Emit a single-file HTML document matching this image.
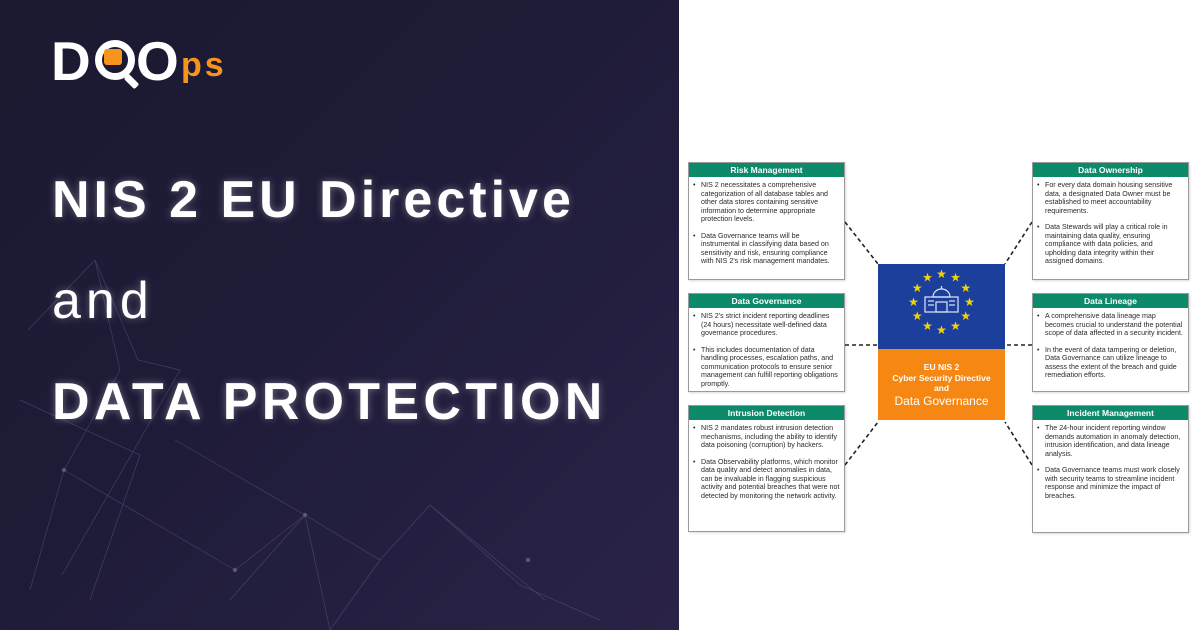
<!DOCTYPE html>
<html><head><meta charset="utf-8"><style>
*{margin:0;padding:0;box-sizing:border-box}
body{width:1200px;height:630px;overflow:hidden;background:#fff;font-family:"Liberation Sans",sans-serif;position:relative}
#left{position:absolute;left:0;top:0;width:679px;height:630px;background:linear-gradient(135deg,#1b1a30 0%,#1e1b38 45%,#2a2347 100%)}
.title{position:absolute;left:52px;color:#fff;font-weight:bold;font-size:52px;letter-spacing:4px;text-shadow:0 0 8px rgba(255,255,255,0.35);white-space:nowrap}
.box{position:absolute;background:#fff;border:1px solid #9a9a9a;box-shadow:1px 1px 2px rgba(0,0,0,0.15)}
.hd{background:#0d8a6a;color:#fff;font-weight:bold;font-size:8.5px;text-align:center;height:14px;line-height:14px}
.box ul{list-style:none;padding:4px 4px 0 4px}
.box li{font-size:7.1px;line-height:8.5px;color:#2a2a2a;padding-left:8px;position:relative;margin-bottom:8px}
.box li:before{content:"•";position:absolute;left:0;top:0}
</style></head><body>
<div id="left">
<svg width="679" height="630" style="position:absolute;left:0;top:0" stroke="#5a5585" stroke-width="0.7" fill="none" opacity="0.6">
<polyline points="28,330 95,260 120,370 64,470 30,590"/>
<polyline points="95,260 138,360 180,370 62,575"/>
<polyline points="64,470 235,570 305,515 380,560 430,505 545,600"/>
<polyline points="175,440 305,515 330,630"/>
<polyline points="380,560 330,630"/>
<polyline points="430,505 520,585 600,620"/>
<polyline points="20,400 140,455 90,600"/>
<polyline points="230,600 305,515"/>
<circle cx="64" cy="470" r="2" fill="#8a86c0"/>
<circle cx="235" cy="570" r="2" fill="#8a86c0"/>
<circle cx="305" cy="515" r="2" fill="#8a86c0"/>
<circle cx="528" cy="560" r="2" fill="#8a86c0"/>
</svg>
<!-- logo -->
<div style="position:absolute;left:51px;top:34px;font-weight:bold;font-size:55px;color:#fff;line-height:55px">D</div>
<div style="position:absolute;left:95px;top:40px;width:40px;height:40px;border:7px solid #fff;border-radius:50%"></div>
<div style="position:absolute;left:104px;top:49px;width:18px;height:16px;background:#f7941d;border-radius:3px"></div>
<div style="position:absolute;left:124px;top:78px;width:15px;height:7px;background:#fff;transform:rotate(45deg);border-radius:2px"></div>
<div style="position:absolute;left:136px;top:34px;font-weight:bold;font-size:55px;color:#fff;line-height:55px">O</div>
<div style="position:absolute;left:181px;top:50px;font-weight:bold;font-size:34px;color:#f7941d;line-height:30px;letter-spacing:3px">ps</div>
<div class="title" style="top:170px">NIS 2 EU Directive</div>
<div class="title" style="top:271px;font-weight:normal;letter-spacing:5px">and</div>
<div class="title" style="top:372px;letter-spacing:4.3px">DATA PROTECTION</div>
</div>

<svg width="1200" height="630" style="position:absolute;left:0;top:0" stroke="#222" stroke-width="1.6" stroke-dasharray="4,3" fill="none">
<line x1="845" y1="222" x2="878" y2="264"/>
<line x1="845" y1="345" x2="878" y2="345"/>
<line x1="845" y1="465" x2="878" y2="422"/>
<line x1="1032" y1="222" x2="1005" y2="264"/>
<line x1="1032" y1="345" x2="1005" y2="345"/>
<line x1="1032" y1="465" x2="1005" y2="422"/>
</svg>

<div class="box" style="left:688px;top:162px;width:157px;height:118px"><div class="hd">Risk Management</div><ul>
<li>NIS 2 necessitates a comprehensive categorization of all database tables and other data stores containing sensitive information to determine appropriate protection levels.</li>
<li>Data Governance teams will be instrumental in classifying data based on sensitivity and risk, ensuring compliance with NIS 2's risk management mandates.</li></ul></div>
<div class="box" style="left:688px;top:293px;width:157px;height:99px"><div class="hd">Data Governance</div><ul>
<li>NIS 2's strict incident reporting deadlines (24 hours) necessitate well-defined data governance procedures.</li>
<li>This includes documentation of data handling processes, escalation paths, and communication protocols to ensure senior management can fulfill reporting obligations promptly.</li></ul></div>
<div class="box" style="left:688px;top:405px;width:157px;height:127px"><div class="hd">Intrusion Detection</div><ul>
<li>NIS 2 mandates robust intrusion detection mechanisms, including the ability to identify data poisoning (corruption) by hackers.</li>
<li>Data Observability platforms, which monitor data quality and detect anomalies in data, can be invaluable in flagging suspicious activity and potential breaches that were not detected by monitoring the network activity.</li></ul></div>

<div class="box" style="left:1032px;top:162px;width:157px;height:118px"><div class="hd">Data Ownership</div><ul>
<li>For every data domain housing sensitive data, a designated Data Owner must be established to meet accountability requirements.</li>
<li>Data Stewards will play a critical role in maintaining data quality, ensuring compliance with data policies, and upholding data integrity within their assigned domains.</li></ul></div>
<div class="box" style="left:1032px;top:293px;width:157px;height:99px"><div class="hd">Data Lineage</div><ul>
<li>A comprehensive data lineage map becomes crucial to understand the potential scope of data affected in a security incident.</li>
<li>In the event of data tampering or deletion, Data Governance can utilize lineage to assess the extent of the breach and guide remediation efforts.</li></ul></div>
<div class="box" style="left:1032px;top:405px;width:157px;height:128px"><div class="hd">Incident Management</div><ul>
<li>The 24-hour incident reporting window demands automation in anomaly detection, intrusion identification, and data lineage analysis.</li>
<li>Data Governance teams must work closely with security teams to streamline incident response and minimize the impact of breaches.</li></ul></div>

<div style="position:absolute;left:878px;top:264px;width:127px;height:85px;background:#1c3f9b">
<svg width="127" height="85">
<g fill="#f5d200" font-size="12" text-anchor="middle">
<text x="63.5" y="14">★</text><text x="77.5" y="17.7">★</text><text x="87.7" y="28">★</text><text x="91.5" y="42">★</text><text x="87.7" y="56">★</text><text x="77.5" y="66.2">★</text><text x="63.5" y="70">★</text><text x="49.5" y="66.2">★</text><text x="39.3" y="56">★</text><text x="35.5" y="42">★</text><text x="39.3" y="28">★</text><text x="49.5" y="17.7">★</text>
</g>
<g stroke="#dfe6f5" fill="none" stroke-width="1.2"><path d="M55,33 a8.5,8 0 0 1 17,0 z"/><rect x="47" y="33" width="33" height="15"/><rect x="58" y="38" width="11" height="10"/><line x1="63.5" y1="22" x2="63.5" y2="25"/><line x1="50" y1="37" x2="56" y2="37"/><line x1="50" y1="41" x2="56" y2="41"/><line x1="71" y1="37" x2="77" y2="37"/><line x1="71" y1="41" x2="77" y2="41"/></g>
</svg></div>
<div style="position:absolute;left:878px;top:349px;width:127px;height:71px;background:#f68712;color:#fff;text-align:center;font-weight:bold;font-size:8.5px;line-height:10.5px;padding-top:13px">EU NIS 2<br>Cyber Security Directive<br>and<br><span style="font-size:12px;line-height:15px;font-weight:normal">Data Governance</span></div>
</body></html>
